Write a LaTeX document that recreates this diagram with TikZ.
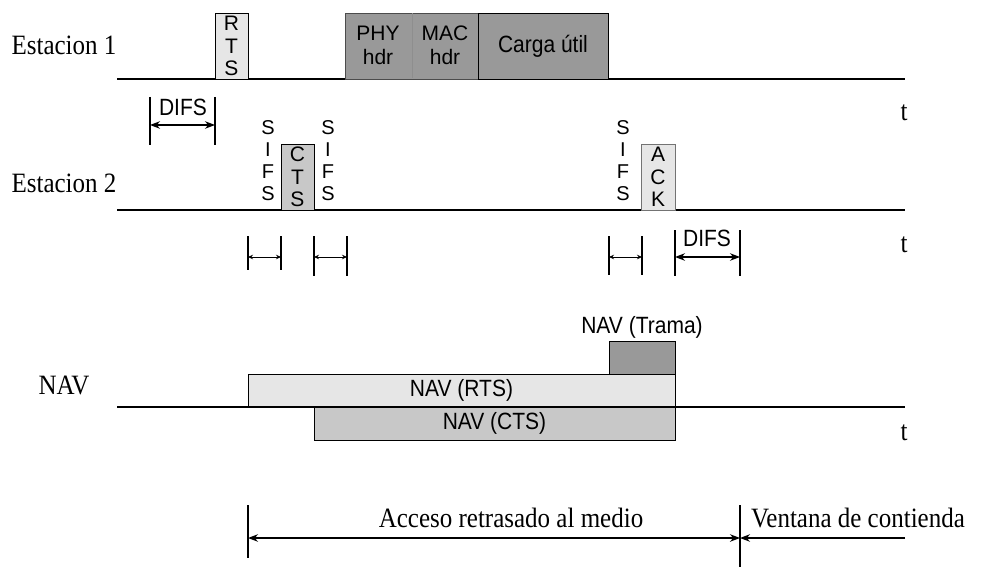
\documentclass[tikz,border=0pt]{standalone}
\usepackage{fontspec}
\setmainfont{Liberation Serif}
\setsansfont{Liberation Sans}
\usetikzlibrary{arrows.meta}
\definecolor{lightbox}{HTML}{E6E6E6}
\definecolor{midbox}{HTML}{C8C8C8}
\definecolor{darkbox}{HTML}{999999}
\definecolor{divline}{HTML}{8E8E8E}
\newcommand\vstr[1]{\scalebox{1}[1.12]{#1}}
\begin{document}
\begin{tikzpicture}[x=1pt,y=-1pt,
  frame/.style={draw=black, line width=0.8pt, inner sep=0pt, align=center,
    font=\sffamily\fontsize{21}{22.5}\selectfont},
  vlabel/.style={inner sep=0pt, align=center, font=\sffamily\fontsize{20}{22}\selectfont},
  slabel/.style={inner sep=0pt, font=\sffamily\fontsize{21}{24}\selectfont, align=center},
  serif/.style={inner sep=0pt, font=\rmfamily\fontsize{25}{28}\selectfont},
  axis/.style={line width=1.3pt},
  bar/.style={line width=1.3pt},
  smallarr/.style={line width=0.8pt, {Stealth[length=5pt,width=4.5pt]}-{Stealth[length=5pt,width=4.5pt]}},
  bigarr/.style={line width=1.3pt, {Stealth[length=10pt,width=7.5pt]}-{Stealth[length=10pt,width=7.5pt]}},
  bigtip/.style={line width=1.3pt, -{Stealth[length=10pt,width=7.5pt]}}]
\useasboundingbox (0,0) rectangle (986,567);

% ---------- Estacion 1 ----------
\node[serif] (lab1) at (64,45) {\vstr{Estacion 1}};
\coordinate (a1s) at (117,79);
\coordinate (a1e) at (905,79);
\draw[axis] (a1s) -- (a1e);
\node[serif] (t1) at (904,113) {\vstr{t}};
\node[frame, fill=lightbox, minimum width=33pt, minimum height=66pt] (rts) at (231.5,46) {R\\T\\S};
\node[frame, fill=darkbox, draw=black!70, minimum width=133pt, minimum height=66pt] (phymac) at (411.5,46) {};
\coordinate (divt) at (412.5,13.5);
\coordinate (divb) at (412.5,78.5);
\draw[line width=0.6pt, color=divline] (divt) -- (divb);
\node[slabel] (phy) at (378,45) {PHY\\hdr};
\node[slabel] (mac) at (445,45) {MAC\\hdr};
\node[frame, fill=darkbox, minimum width=130pt, minimum height=66pt] (carga) at (543,46) {\vstr{Carga útil}};

% DIFS 1
\coordinate (d1a) at (150,97); \coordinate (d1b) at (150,145);
\coordinate (d2a) at (215,97); \coordinate (d2b) at (215,145);
\draw[bar] (d1a) -- (d1b);
\draw[bar] (d2a) -- (d2b);
\coordinate (d1m) at (150,125); \coordinate (d2m) at (215,125);
\draw[bigarr] (d1m) -- (d2m);
\node[slabel] (difs1) at (183,107) {\vstr{DIFS}};

% ---------- Estacion 2 ----------
\node[serif] (lab2) at (64,183) {\vstr{Estacion 2}};
\coordinate (a2s) at (117,210);
\coordinate (a2e) at (905,210);
\draw[axis] (a2s) -- (a2e);
\node[serif] (t2) at (904,245) {\vstr{t}};
\node[frame, fill=midbox, minimum width=33pt, minimum height=66pt] (cts) at (297.5,177) {C\\T\\S};
\node[frame, fill=lightbox, draw=black!55, minimum width=34pt, minimum height=66pt] (ack) at (658,177) {A\\C\\K};
\node[vlabel] (sifs1) at (268,161) {S\\I\\F\\S};
\node[vlabel] (sifs2) at (328,161) {S\\I\\F\\S};
\node[vlabel] (sifs3) at (623,161) {S\\I\\F\\S};

% SIFS markers
\foreach \n/\x/\yb in {s1/248/270, s2/281/270, s3/314/276, s4/347/276, s5/609/275, s6/642/275} {
  \coordinate (\n a) at (\x,236);
  \coordinate (\n b) at (\x,\yb);
  \coordinate (\n m) at (\x,257);
  \draw[bar] (\n a) -- (\n b);
}
\draw[smallarr] (s1m) -- (s2m);
\draw[smallarr] (s3m) -- (s4m);
\draw[smallarr] (s5m) -- (s6m);

% DIFS 2
\coordinate (e1a) at (675,230); \coordinate (e1b) at (675,276);
\coordinate (e2a) at (740,230); \coordinate (e2b) at (740,276);
\draw[bar] (e1a) -- (e1b);
\draw[bar] (e2a) -- (e2b);
\coordinate (e1m) at (675,257); \coordinate (e2m) at (740,257);
\draw[bigarr] (e1m) -- (e2m);
\node[slabel] (difs2) at (707,238) {\vstr{DIFS}};

% ---------- NAV ----------
\node[serif] (lab3) at (64,385) {\vstr{NAV}};
\node[frame, fill=lightbox, minimum width=427pt, minimum height=33pt] (navrts) at (461.5,390.5) {\vstr{NAV (RTS)}};
\node[frame, fill=midbox, minimum width=361pt, minimum height=33pt] (navcts) at (494.5,423.5) {\vstr{NAV (CTS)}};
\node[frame, fill=darkbox, minimum width=66pt, minimum height=33pt] (navtr) at (642,357.5) {};
\node[slabel] (navtrl) at (642,327) {\vstr{NAV (Trama)}};
\coordinate (a3s) at (117,407);
\coordinate (a3e) at (905,407);
\draw[axis] (a3s) -- (a3e);
\node[serif] (t3) at (904,433) {\vstr{t}};

% ---------- Bottom ----------
\coordinate (b1a) at (248,505); \coordinate (b1b) at (248,558);
\coordinate (b2a) at (740,505); \coordinate (b2b) at (740,567);
\draw[bar] (b1a) -- (b1b);
\draw[bar] (b2a) -- (b2b);
\coordinate (b1m) at (248,538); \coordinate (b2m) at (740,538);
\coordinate (b3m) at (905,538);
\draw[bigarr] (b1m) -- (b2m);
\draw[bigtip] (b3m) -- (b2m);
\node[serif] (acc) at (511,518) {\vstr{Acceso retrasado al medio}};
\node[serif] (ven) at (858,518) {\vstr{Ventana de contienda}};
\end{tikzpicture}
\end{document}
